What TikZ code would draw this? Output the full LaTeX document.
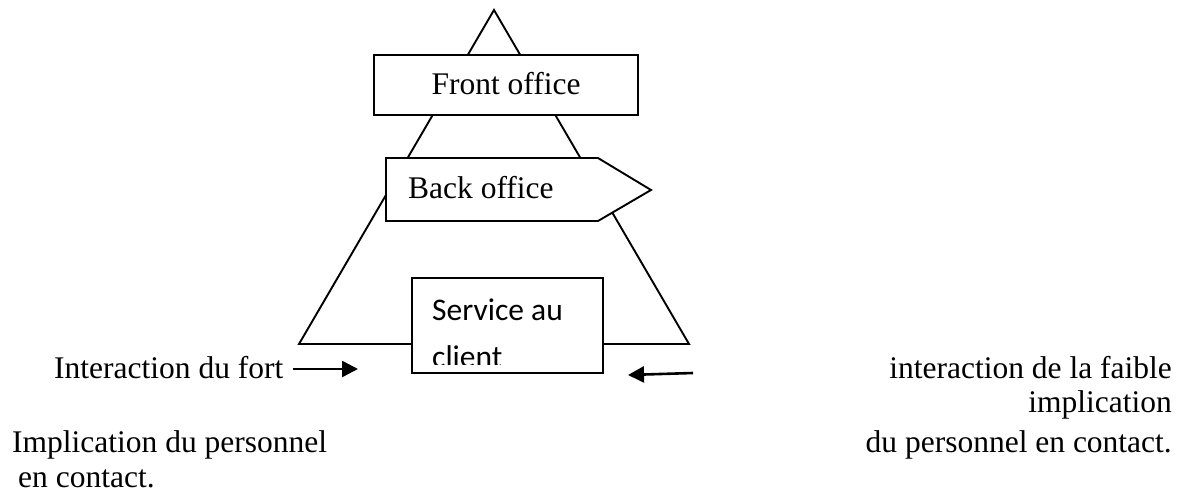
\documentclass[tikz,border=0pt]{standalone}
\usepackage{fontspec}
\setmainfont{Liberation Serif}
\newfontfamily\calib{Carlito}
\usetikzlibrary{arrows.meta}
\begin{document}
\begin{tikzpicture}[x=1pt,y=-1pt,
  shapeline/.style={draw=black,line width=1.9pt,line join=miter},
  boxfill/.style={shapeline,fill=white},
  txt/.style={inner sep=0pt,font=\fontsize{31.5}{36}\selectfont},
  sanstxt/.style={inner sep=0pt,font=\calib\fontsize{31.5}{36}\selectfont},
  pointer/.style={draw=black,line width=2.6pt,-{Triangle[length=16pt,width=16pt]}}]
\useasboundingbox (0,0) rectangle (1186,492);
% triangle
\coordinate (apex) at (494,10);
\coordinate (bl) at (299,344);
\coordinate (br) at (689,344);
\draw[shapeline] (apex) -- (bl) -- (br) -- cycle;
% front office
\draw[boxfill] (374,55) rectangle (638,115);
\node[txt,anchor=base] (front) at (506,95) {Front office};
% back office
\draw[boxfill] (386,158) -- (598,158) -- (651,190) -- (598,221) -- (386,221) -- cycle;
\node[txt,anchor=base west] (back) at (408,198) {Back office};
% service au client
\draw[boxfill] (412,278) rectangle (603,373);
\begin{scope}
\clip (412,278) rectangle (603,364);
\node[sanstxt,anchor=base west] (svc1) at (432,320) {Service au};
\node[sanstxt,anchor=base west] (svc2) at (432,367) {client};
\end{scope}
% left texts
\node[txt,anchor=base west] (lt1) at (54,378) {Interaction du fort};
\node[txt,anchor=base west] (lt2) at (12,452) {Implication du personnel};
\node[txt,anchor=base west] (lt3) at (18,487) {en contact.};
% right texts
\node[txt,anchor=base east] (rt1) at (1172,378) {interaction de la faible};
\node[txt,anchor=base east] (rt2) at (1172,412) {implication};
\node[txt,anchor=base east] (rt3) at (1172,452) {du personnel en contact.};
% arrows
\coordinate (la1) at (293,369);
\coordinate (la2) at (358,369);
\coordinate (ra1) at (693,373);
\coordinate (ra2) at (628,375);
\draw[pointer] (la1) -- (la2);
\draw[pointer] (ra1) -- (ra2);
\end{tikzpicture}
\end{document}
